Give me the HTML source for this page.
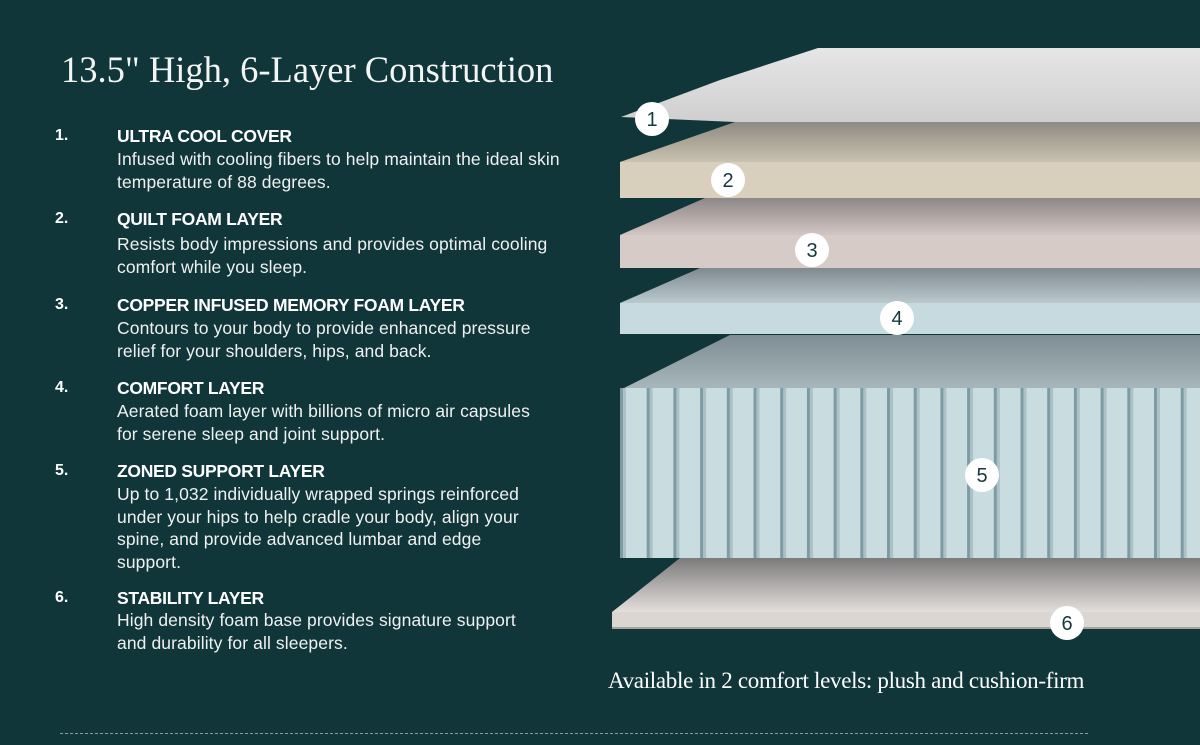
<!DOCTYPE html>
<html><head><meta charset="utf-8"><style>
html,body{margin:0;padding:0}
body{width:1200px;height:745px;background:#10363a;position:relative;overflow:hidden;font-family:"Liberation Sans",sans-serif;color:#fff}
.t{position:absolute;white-space:nowrap}
.title{left:61px;top:48px;font-family:"Liberation Serif",serif;font-size:36.5px;color:#f4f4f4}
.n{left:55px;font-weight:bold;font-size:16px}
.h{left:117px;font-weight:bold;font-size:17.5px;letter-spacing:-0.3px}
.b{left:117px;font-size:17.5px;line-height:22.5px;letter-spacing:0.1px;color:#f0f0f0}
.foot{left:608px;top:668px;font-family:"Liberation Serif",serif;font-size:23px;letter-spacing:-0.3px}
.dash{position:absolute;left:60px;top:733px;width:1028px;border-top:1px dashed #8a9c9c}
svg{position:absolute;left:0;top:0}
</style></head><body>
<svg width="1200" height="745">
<defs>
<linearGradient id="g2" x1="0" y1="0" x2="0" y2="1"><stop offset="0" stop-color="#8f8a82"/><stop offset="1" stop-color="#c9c2b1"/></linearGradient>
<linearGradient id="g3" x1="0" y1="0" x2="0" y2="1"><stop offset="0" stop-color="#8e8787"/><stop offset="1" stop-color="#d2c6c3"/></linearGradient>
<linearGradient id="g4" x1="0" y1="0" x2="0" y2="1"><stop offset="0" stop-color="#7f8a8f"/><stop offset="1" stop-color="#bac9ce"/></linearGradient>
<linearGradient id="g5" x1="0" y1="0" x2="0" y2="1"><stop offset="0" stop-color="#7d8d93"/><stop offset="1" stop-color="#a9b8bc"/></linearGradient>
<linearGradient id="g6" x1="0" y1="0" x2="0" y2="1"><stop offset="0" stop-color="#7c7b7b"/><stop offset="1" stop-color="#e2dedc"/></linearGradient>
<linearGradient id="g1" x1="0" y1="0" x2="0" y2="1"><stop offset="0" stop-color="#e6e6e6"/><stop offset="1" stop-color="#cfcfcf"/></linearGradient>
<pattern id="sp" x="620" y="0" width="26.7" height="10" patternUnits="userSpaceOnUse">
<rect width="26.7" height="10" fill="#c9dde1"/><rect x="0" width="3" height="10" fill="#7e9ba3"/><rect x="3" width="3" height="10" fill="#a9c1c7"/>
</pattern>
</defs>
<polygon points="612,612 680,558 1200,558 1200,612" fill="url(#g6)"/>
<rect x="612" y="612" width="588" height="17" fill="#dcd6d3"/>
<rect x="612" y="627" width="588" height="2" fill="#a5a2a0"/>
<polygon points="620,390 730,335 1200,335 1200,390" fill="url(#g5)"/>
<rect x="620" y="388" width="580" height="170" fill="url(#sp)"/>
<polygon points="620,303 700,268 1200,268 1200,303" fill="url(#g4)"/>
<rect x="620" y="303" width="580" height="31" fill="#c6dadf"/>
<polygon points="620,235 705,198 1200,198 1200,235" fill="url(#g3)"/>
<rect x="620" y="235" width="580" height="33" fill="#d7cbc7"/>
<polygon points="620,162 735,122 1200,122 1200,162" fill="url(#g2)"/>
<rect x="620" y="162" width="580" height="36" fill="#d8d0bd"/>
<polygon points="621,117 720,80 818,48 1200,48 1200,122 735,122" fill="url(#g1)"/>
<g fill="#fff"><circle cx="652" cy="119" r="17"/><circle cx="728" cy="180" r="17"/><circle cx="812" cy="250" r="17"/><circle cx="897" cy="318" r="17"/><circle cx="982" cy="475" r="17"/><circle cx="1067" cy="623" r="17"/></g>
<g fill="#16393e" font-family="Liberation Sans,sans-serif" font-size="20" text-anchor="middle"><text x="652" y="126">1</text><text x="728" y="187">2</text><text x="812" y="257">3</text><text x="897" y="325">4</text><text x="982" y="482">5</text><text x="1067" y="630">6</text></g>
</svg>
<div class="t title">13.5" High, 6-Layer Construction</div>
<div class="t n" style="top:127px">1.</div><div class="t h" style="top:126px">ULTRA COOL COVER</div>
<div class="t b" style="top:148px">Infused with cooling fibers to help maintain the ideal skin<br>temperature of 88 degrees.</div>
<div class="t n" style="top:210px">2.</div><div class="t h" style="top:209px">QUILT FOAM LAYER</div>
<div class="t b" style="top:233px">Resists body impressions and provides optimal cooling<br>comfort while you sleep.</div>
<div class="t n" style="top:296px">3.</div><div class="t h" style="top:295px">COPPER INFUSED MEMORY FOAM LAYER</div>
<div class="t b" style="top:317px">Contours to your body to provide enhanced pressure<br>relief for your shoulders, hips, and back.</div>
<div class="t n" style="top:379px">4.</div><div class="t h" style="top:378px">COMFORT LAYER</div>
<div class="t b" style="top:400px">Aerated foam layer with billions of micro air capsules<br>for serene sleep and joint support.</div>
<div class="t n" style="top:462px">5.</div><div class="t h" style="top:461px">ZONED SUPPORT LAYER</div>
<div class="t b" style="top:483px">Up to 1,032 individually wrapped  springs reinforced<br>under your hips to help cradle your body, align your<br>spine, and provide advanced lumbar and edge<br>support.</div>
<div class="t n" style="top:589px">6.</div><div class="t h" style="top:588px">STABILITY LAYER</div>
<div class="t b" style="top:609px">High density foam base provides signature support<br>and durability for all sleepers.</div>
<div class="t foot">Available in 2 comfort levels: plush and cushion-firm</div>
<div class="dash"></div>
</body></html>
